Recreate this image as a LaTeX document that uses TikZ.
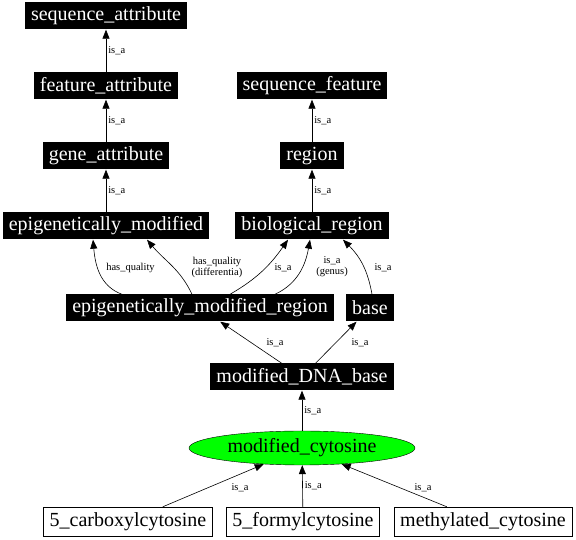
\documentclass[tikz,border=0pt]{standalone}
\usepackage{fontspec}
\setmainfont{Liberation Serif}
\usetikzlibrary{arrows.meta, shapes.geometric}

\tikzset{
  term/.style={fill=black, text=white, font=\fontsize{20}{22}\selectfont, inner xsep=6pt, inner ysep=0pt, minimum height=27pt},
  leaf/.style={draw=black, fill=white, font=\fontsize{20}{22}\selectfont, inner xsep=6pt, inner ysep=0pt, minimum height=29pt},
  focus/.style={ellipse, draw=black, fill=green, font=\fontsize{20}{22}\selectfont, minimum width=226pt, minimum height=34pt, inner sep=0pt},
  isa/.style={-{Triangle[length=9pt,width=7pt]}, line width=0.6pt},
  lbl/.style={font=\fontsize{10.5}{11}\selectfont, inner sep=2pt, align=center}
}

\begin{document}
\begin{tikzpicture}[x=1pt, y=1pt]
        \useasboundingbox (0,0) rectangle (576,540);
        % Attribute chain
        \node[term] (seqattr) at (106,524) {sequence\_attribute};
        \node[term] (featattr) at (106,454) {feature\_attribute};
        \node[term] (geneattr) at (106,384) {gene\_attribute};
        \node[term] (epimod) at (106,314) {epigenetically\_modified};
        % Feature chain
        \node[term] (seqfeat) at (312,454) {sequence\_feature};
        \node[term] (region) at (312,384) {region};
        \node[term] (bioreg) at (312,314) {biological\_region};
        % Middle
        \node[term] (epiregion) at (200,232) {epigenetically\_modified\_region};
        \node[term] (base) at (370,232) {base};
        \node[term] (mdnab) at (302,163) {modified\_DNA\_base};
        \node[focus] (mcyt) at (302,92) {modified\_cytosine};
        % Leaves
        \node[leaf] (carboxy) at (128,18.5) {5\_carboxylcytosine};
        \node[leaf] (formyl) at (303,18.5) {5\_formylcytosine};
        \node[leaf] (methyl) at (483,18.5) {methylated\_cytosine};
        % Straight is_a edges
        \draw[isa] (featattr) -- node[lbl, right] {is\_a} (seqattr);
        \draw[isa] (geneattr) -- node[lbl, right] {is\_a} (featattr);
        \draw[isa] (epimod) -- node[lbl, right] {is\_a} (geneattr);
        \draw[isa] (region) -- node[lbl, right] {is\_a} (seqfeat);
        \draw[isa] (bioreg) -- node[lbl, right] {is\_a} (region);
        \draw[isa] (mcyt) -- node[lbl, right] {is\_a} (mdnab);
        \draw[isa] (formyl) -- node[lbl, right] {is\_a} (mcyt);
        \draw[isa] (carboxy) -- (mcyt);
        \draw[isa] (methyl) -- (mcyt);
        \draw[isa] (mdnab) -- (epiregion);
        \draw[isa] (mdnab) -- (base);
        % Curved edges
        \draw[isa] ([xshift=-78pt]epiregion.north) to[out=160, in=-85] ([xshift=-13pt]epimod.south);
        \draw[isa] ([xshift=-8pt]epiregion.north) to[out=115, in=-50] ([xshift=41pt]epimod.south);
        \draw[isa] ([xshift=30pt]epiregion.north) to[out=30, in=-125] ([xshift=-24pt]bioreg.south);
        \draw[isa] ([xshift=75pt]epiregion.north) to[out=25, in=-100] ([xshift=-2pt]bioreg.south);
        \draw[isa] ([xshift=2pt]base.north) to[out=100, in=-45] ([xshift=31pt]bioreg.south);
        % Labels
        \node[lbl] (lhq) at (130.5,272) {has\_quality};
        \node[lbl] (lhqd) at (217,273) {has\_quality\\(differentia)};
        \node[lbl] (lisa) at (283,272) {is\_a};
        \node[lbl] (lgen) at (332,273) {is\_a\\(genus)};
        \node[lbl] (lbase) at (383,272) {is\_a};
        \node[lbl] (lreg) at (275,197) {is\_a};
        \node[lbl] (lbas) at (360,197) {is\_a};
        \node[lbl] (lcar) at (240,52) {is\_a};
        \node[lbl] (lmet) at (423,52) {is\_a};
    \end{tikzpicture}
\end{document}
